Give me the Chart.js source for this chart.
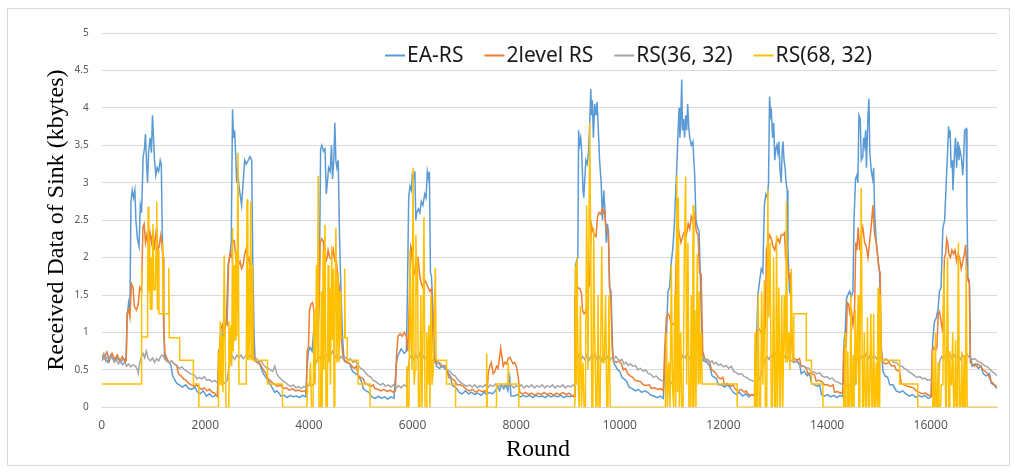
<!DOCTYPE html>
<html>
<head>
<meta charset="utf-8">
<script src="https://cdn.jsdelivr.net/npm/chart.js@4.4.1/dist/chart.umd.min.js"></script>
<style>
  body { margin: 0; background: #fff; }
  #wrap { position: relative; width: 1016px; height: 472px; }
  #frame { position: absolute; left: 7px; top: 8px; width: 1001px; height: 456px; border: 1px solid #d9d9d9; }
  canvas { position: absolute; left: 0; top: 0; }
</style>
</head>
<body>
<div id="wrap">
  <div id="frame"></div>
  <canvas id="chartBox" width="1016" height="472"></canvas>
</div>
<script>
// tick labels
const roundTicks = [0, 2000, 4000, 6000, 8000, 10000, 12000, 14000, 16000];
const kbyteTicks = [0, 0.5, 1, 1.5, 2, 2.5, 3, 3.5, 4, 4.5, 5];
const seriesNames = ['EA-RS', '2level RS', 'RS(36, 32)', 'RS(68, 32)'];
const yTitle = 'Received Data of Sink (kbytes)';
const xTitle = 'Round';

// [round, kbytes]
const eaRS = [[0,0.62],[60,0.68],[120,0.6],[180,0.7],[240,0.62],[300,0.66],[360,0.6],[420,0.65],[470,0.63],[490,1.2],[520,1.4],[545,1.3],[565,2.75],[590,2.9],[615,2.8],[640,2.9],[660,2.5],[690,2.25],[720,2.15],[745,2.7],[770,2.6],[800,3.35],[825,3.45],[845,3.65],[870,3.2],[885,3.0],[905,3.4],[935,3.6],[960,3.4],[980,3.9],[1000,3.6],[1020,3.3],[1045,3.1],[1070,3.2],[1100,3.15],[1130,3.3],[1150,3.25],[1170,2.3],[1195,1.1],[1215,0.7],[1250,0.62],[1300,0.6],[1340,0.55],[1370,0.42],[1400,0.38],[1450,0.32],[1500,0.3],[1560,0.27],[1620,0.3],[1680,0.25],[1740,0.24],[1800,0.27],[1850,0.2],[1900,0.18],[1960,0.22],[2020,0.15],[2080,0.18],[2140,0.14],[2200,0.16],[2230,0.15],[2260,0.6],[2290,0.7],[2320,0.9],[2350,1.1],[2380,1.05],[2410,1.2],[2440,1.9],[2470,2.0],[2500,2.2],[2525,3.98],[2545,3.6],[2565,3.7],[2590,3.3],[2605,3.0],[2620,3.2],[2650,2.95],[2680,2.8],[2700,2.7],[2730,3.0],[2760,3.3],[2790,3.25],[2830,3.3],[2860,3.35],[2895,3.3],[2915,2.0],[2940,1.0],[2960,0.62],[3000,0.6],[3050,0.58],[3090,0.5],[3120,0.45],[3170,0.4],[3215,0.35],[3260,0.3],[3300,0.25],[3340,0.2],[3380,0.22],[3420,0.19],[3460,0.15],[3520,0.16],[3580,0.13],[3640,0.16],[3700,0.14],[3760,0.15],[3820,0.13],[3880,0.16],[3940,0.14],[3960,0.5],[3990,0.75],[4020,0.8],[4060,0.75],[4090,1.0],[4120,1.15],[4150,1.12],[4180,1.2],[4205,2.0],[4225,3.45],[4250,3.5],[4280,3.42],[4310,3.45],[4335,2.85],[4355,3.0],[4380,3.2],[4410,3.15],[4435,3.5],[4455,3.05],[4480,3.3],[4500,3.8],[4520,3.3],[4540,3.2],[4565,3.3],[4590,2.3],[4620,1.5],[4650,0.9],[4680,0.62],[4720,0.6],[4790,0.58],[4840,0.48],[4900,0.45],[4960,0.42],[5010,0.35],[5050,0.25],[5100,0.22],[5160,0.2],[5210,0.14],[5280,0.12],[5340,0.15],[5400,0.12],[5460,0.14],[5520,0.11],[5580,0.14],[5640,0.12],[5690,0.6],[5720,0.7],[5780,0.78],[5840,0.72],[5880,0.75],[5900,1.5],[5925,2.8],[5950,2.95],[5975,2.9],[5995,3.1],[6020,3.05],[6045,3.15],[6062,2.5],[6080,2.6],[6110,2.65],[6140,2.6],[6170,2.75],[6200,2.7],[6235,2.85],[6260,2.8],[6285,3.15],[6310,3.05],[6325,3.15],[6345,1.8],[6365,1.75],[6400,1.2],[6430,0.7],[6460,0.55],[6520,0.52],[6580,0.55],[6650,0.5],[6700,0.45],[6740,0.4],[6760,0.3],[6800,0.28],[6850,0.25],[6900,0.2],[6960,0.18],[7020,0.22],[7080,0.18],[7140,0.2],[7200,0.17],[7260,0.19],[7320,0.16],[7380,0.2],[7430,0.17],[7480,0.2],[7540,0.18],[7600,0.22],[7640,0.28],[7680,0.22],[7720,0.3],[7760,0.25],[7800,0.3],[7840,0.22],[7875,0.4],[7900,0.15],[7960,0.15],[8020,0.17],[8080,0.14],[8140,0.16],[8200,0.14],[8260,0.16],[8320,0.13],[8380,0.16],[8440,0.14],[8500,0.15],[8560,0.13],[8620,0.16],[8680,0.14],[8740,0.16],[8800,0.14],[8860,0.16],[8920,0.13],[8980,0.15],[9040,0.14],[9100,0.16],[9130,0.15],[9145,1.9],[9165,1.95],[9190,2.0],[9205,3.7],[9220,3.5],[9245,3.6],[9265,3.4],[9290,2.9],[9305,2.8],[9320,3.0],[9345,3.3],[9370,3.25],[9395,3.4],[9420,3.8],[9440,4.25],[9455,3.9],[9470,4.1],[9490,3.6],[9515,4.05],[9540,3.9],[9560,4.08],[9580,3.8],[9610,3.3],[9640,3.0],[9665,2.5],[9690,2.9],[9715,2.6],[9740,2.2],[9760,2.45],[9780,2.35],[9800,1.6],[9830,1.55],[9860,0.8],[9880,0.6],[9920,0.55],[9960,0.5],[10000,0.48],[10040,0.4],[10080,0.38],[10130,0.35],[10180,0.27],[10240,0.25],[10300,0.22],[10360,0.24],[10420,0.2],[10480,0.22],[10540,0.2],[10600,0.16],[10660,0.15],[10720,0.13],[10780,0.15],[10840,0.12],[10870,0.6],[10900,0.95],[10930,1.55],[10960,1.6],[10995,1.95],[11020,2.1],[11050,2.4],[11080,2.9],[11100,3.2],[11125,3.7],[11145,4.0],[11160,3.6],[11175,3.8],[11195,4.38],[11210,3.7],[11230,3.85],[11250,3.6],[11270,3.9],[11290,3.7],[11310,4.05],[11330,3.75],[11350,3.6],[11380,3.5],[11410,3.55],[11445,3.1],[11470,2.5],[11500,2.4],[11530,2.35],[11560,1.6],[11590,0.75],[11620,0.62],[11680,0.6],[11735,0.55],[11780,0.42],[11830,0.4],[11870,0.38],[11900,0.3],[11960,0.3],[12020,0.27],[12080,0.3],[12140,0.25],[12190,0.2],[12250,0.17],[12310,0.2],[12370,0.15],[12430,0.18],[12490,0.14],[12550,0.17],[12600,0.15],[12635,0.8],[12665,1.5],[12700,1.7],[12730,1.85],[12760,1.8],[12790,2.7],[12820,2.85],[12850,2.8],[12870,3.0],[12890,4.15],[12910,3.9],[12925,3.95],[12950,3.6],[12970,3.8],[12990,3.3],[13010,3.45],[13030,3.5],[13050,3.4],[13070,3.55],[13090,3.2],[13115,3.0],[13135,3.45],[13150,3.55],[13170,3.3],[13190,3.2],[13210,3.0],[13230,2.9],[13245,2.1],[13275,1.55],[13300,1.5],[13330,0.8],[13360,0.6],[13420,0.62],[13470,0.58],[13500,0.45],[13560,0.48],[13620,0.42],[13660,0.45],[13700,0.32],[13760,0.3],[13820,0.28],[13860,0.3],[13890,0.17],[13950,0.15],[14010,0.17],[14070,0.14],[14130,0.16],[14190,0.13],[14250,0.16],[14305,0.14],[14330,0.9],[14350,1.0],[14375,1.45],[14400,1.5],[14435,1.55],[14470,1.48],[14500,1.55],[14520,2.5],[14550,3.05],[14575,3.1],[14595,3.0],[14615,3.9],[14640,3.85],[14660,3.3],[14690,3.35],[14705,3.6],[14725,3.5],[14745,3.7],[14760,3.2],[14790,3.9],[14808,4.12],[14825,3.4],[14855,3.15],[14880,3.05],[14900,3.2],[14918,2.6],[14950,2.2],[14980,2.0],[15013,1.8],[15040,0.9],[15078,0.48],[15120,0.42],[15170,0.4],[15210,0.3],[15270,0.3],[15335,0.22],[15400,0.2],[15460,0.22],[15520,0.18],[15590,0.15],[15650,0.17],[15710,0.13],[15770,0.16],[15830,0.14],[15890,0.16],[15950,0.12],[16010,0.14],[16040,0.9],[16075,1.15],[16110,1.2],[16140,1.3],[16170,1.55],[16200,1.6],[16235,2.4],[16270,2.5],[16300,3.0],[16320,3.3],[16345,3.75],[16360,3.6],[16375,3.7],[16395,3.2],[16415,3.3],[16430,2.9],[16460,3.4],[16480,3.6],[16500,3.2],[16525,3.55],[16545,3.3],[16560,3.45],[16590,3.35],[16620,3.1],[16640,3.4],[16655,3.7],[16685,3.72],[16700,2.7],[16720,1.7],[16750,1.65],[16765,0.7],[16800,0.55],[16860,0.58],[16920,0.52],[16975,0.55],[17010,0.45],[17070,0.42],[17135,0.45],[17170,0.32],[17220,0.3],[17280,0.25]];

const twoLevelRS = [[0,0.7],[50,0.65],[100,0.74],[150,0.62],[200,0.72],[250,0.64],[300,0.7],[350,0.62],[400,0.68],[450,0.6],[475,0.65],[490,1.25],[520,1.3],[545,1.2],[575,1.65],[605,1.6],[630,1.35],[670,1.3],[705,1.38],[735,1.6],[770,1.55],[795,2.4],[820,2.45],[845,2.2],[870,2.3],[900,2.15],[930,2.35],[960,2.2],[990,2.35],[1010,2.1],[1040,2.3],[1060,2.4],[1080,2.1],[1110,2.15],[1140,2.3],[1160,2.2],[1185,2.0],[1200,1.0],[1220,0.72],[1260,0.65],[1300,0.6],[1350,0.62],[1400,0.58],[1450,0.55],[1480,0.45],[1530,0.42],[1580,0.38],[1630,0.36],[1680,0.32],[1730,0.3],[1780,0.28],[1830,0.3],[1880,0.26],[1930,0.24],[1980,0.26],[2030,0.22],[2080,0.24],[2130,0.2],[2180,0.19],[2220,0.15],[2240,0.14],[2255,0.75],[2280,0.8],[2300,1.05],[2330,1.1],[2360,0.95],[2390,1.12],[2420,1.1],[2450,1.95],[2480,2.05],[2510,2.0],[2530,2.24],[2560,2.22],[2590,2.0],[2620,2.05],[2640,1.9],[2670,1.95],[2700,1.85],[2730,1.9],[2760,2.05],[2790,2.12],[2810,1.95],[2840,2.0],[2870,1.85],[2895,1.8],[2910,1.45],[2935,0.7],[2960,0.62],[3000,0.6],[3050,0.58],[3080,0.55],[3120,0.5],[3170,0.45],[3215,0.38],[3260,0.35],[3310,0.32],[3350,0.3],[3400,0.28],[3450,0.3],[3500,0.25],[3560,0.26],[3620,0.23],[3680,0.25],[3740,0.22],[3800,0.23],[3860,0.21],[3920,0.22],[3950,0.2],[3965,0.75],[3990,0.8],[4010,1.3],[4040,1.38],[4070,1.4],[4095,1.3],[4115,0.95],[4150,1.0],[4180,1.05],[4200,1.4],[4215,2.2],[4245,2.25],[4275,2.22],[4300,2.0],[4330,1.95],[4350,2.0],[4370,2.1],[4400,2.0],[4435,1.98],[4470,2.1],[4500,1.95],[4530,1.95],[4565,1.7],[4597,1.55],[4625,0.9],[4660,0.65],[4700,0.62],[4750,0.6],[4790,0.58],[4830,0.55],[4880,0.52],[4920,0.55],[4950,0.42],[5000,0.4],[5050,0.38],[5080,0.32],[5140,0.3],[5200,0.28],[5240,0.3],[5270,0.25],[5330,0.24],[5390,0.22],[5450,0.24],[5510,0.21],[5570,0.23],[5630,0.2],[5670,0.22],[5690,0.7],[5720,0.95],[5760,0.98],[5800,0.95],[5840,1.0],[5880,0.95],[5910,0.75],[5940,1.5],[5965,2.15],[5985,2.1],[6010,1.75],[6040,1.8],[6075,2.0],[6105,2.0],[6140,1.75],[6170,1.65],[6200,1.6],[6235,1.7],[6270,1.65],[6300,1.6],[6335,1.55],[6365,1.58],[6385,1.2],[6400,0.75],[6430,0.62],[6490,0.6],[6550,0.55],[6620,0.56],[6660,0.5],[6700,0.4],[6760,0.38],[6820,0.35],[6860,0.3],[6920,0.3],[6980,0.28],[7040,0.24],[7100,0.22],[7160,0.24],[7220,0.2],[7280,0.23],[7340,0.21],[7400,0.22],[7440,0.2],[7460,0.45],[7490,0.55],[7520,0.6],[7555,0.45],[7590,0.48],[7620,0.55],[7650,0.52],[7685,0.7],[7700,0.79],[7720,0.7],[7750,0.55],[7780,0.6],[7810,0.58],[7845,0.65],[7880,0.67],[7910,0.62],[7940,0.58],[7970,0.6],[8005,0.55],[8040,0.4],[8070,0.2],[8120,0.18],[8180,0.2],[8240,0.17],[8300,0.19],[8360,0.16],[8420,0.19],[8480,0.17],[8540,0.2],[8600,0.17],[8660,0.19],[8720,0.16],[8780,0.19],[8840,0.17],[8900,0.2],[8960,0.17],[9020,0.19],[9080,0.15],[9120,0.14],[9135,1.45],[9160,1.55],[9195,1.6],[9230,1.58],[9260,1.52],[9280,1.3],[9310,1.25],[9340,1.28],[9360,1.35],[9390,1.6],[9410,1.62],[9430,2.0],[9450,2.45],[9480,2.35],[9510,2.3],[9540,2.28],[9570,2.55],[9600,2.6],[9630,2.58],[9660,2.65],[9690,2.6],[9710,2.62],[9730,2.4],[9760,2.35],[9780,2.3],[9805,1.6],[9830,1.4],[9855,0.75],[9880,0.62],[9930,0.6],[9980,0.62],[10030,0.58],[10070,0.5],[10110,0.52],[10150,0.45],[10200,0.42],[10250,0.4],[10290,0.36],[10350,0.35],[10410,0.34],[10450,0.3],[10510,0.29],[10570,0.3],[10610,0.25],[10670,0.26],[10730,0.24],[10790,0.25],[10840,0.22],[10866,0.78],[10900,1.2],[10930,1.25],[10960,1.22],[10990,1.1],[11020,1.12],[11060,1.1],[11090,2.0],[11120,2.45],[11150,2.3],[11180,2.2],[11220,2.3],[11250,2.35],[11285,2.3],[11320,2.45],[11350,2.38],[11380,2.55],[11410,2.5],[11445,2.58],[11475,2.35],[11510,2.3],[11540,1.8],[11570,1.78],[11600,0.75],[11640,0.65],[11700,0.62],[11735,0.6],[11770,0.5],[11820,0.48],[11860,0.45],[11900,0.4],[11950,0.38],[11990,0.4],[12020,0.3],[12080,0.32],[12140,0.28],[12190,0.3],[12220,0.25],[12280,0.22],[12340,0.24],[12400,0.2],[12440,0.22],[12480,0.17],[12540,0.16],[12600,0.17],[12615,0.8],[12640,1.0],[12685,1.05],[12720,1.02],[12750,0.95],[12790,0.98],[12810,1.1],[12830,2.1],[12860,2.2],[12890,2.3],[12925,2.25],[12955,2.15],[12990,2.1],[13020,2.2],[13050,2.25],[13085,2.2],[13115,2.3],[13150,2.3],[13180,2.33],[13200,2.0],[13225,2.05],[13250,1.8],[13280,1.7],[13295,1.8],[13310,1.0],[13340,0.65],[13375,0.65],[13420,0.63],[13470,0.65],[13500,0.55],[13550,0.55],[13600,0.52],[13630,0.45],[13690,0.46],[13760,0.43],[13790,0.35],[13850,0.36],[13920,0.33],[13950,0.3],[14010,0.3],[14070,0.28],[14115,0.3],[14145,0.2],[14200,0.21],[14260,0.19],[14305,0.2],[14320,0.76],[14345,0.85],[14370,0.82],[14390,1.4],[14415,1.38],[14440,1.25],[14470,1.3],[14500,1.1],[14530,1.3],[14555,2.2],[14575,2.1],[14600,2.4],[14630,2.1],[14660,2.3],[14690,2.4],[14725,2.2],[14757,2.15],[14790,2.0],[14820,2.2],[14850,2.4],[14885,2.7],[14900,2.5],[14918,2.3],[14950,2.2],[14980,2.0],[15000,1.85],[15025,1.8],[15045,0.75],[15078,0.6],[15130,0.58],[15190,0.6],[15250,0.55],[15300,0.56],[15335,0.5],[15400,0.48],[15430,0.32],[15490,0.3],[15550,0.28],[15610,0.27],[15670,0.26],[15720,0.22],[15780,0.2],[15840,0.18],[15900,0.19],[15960,0.16],[16010,0.15],[16030,0.76],[16055,0.8],[16095,0.76],[16120,0.8],[16145,1.25],[16170,1.28],[16200,1.15],[16235,1.0],[16265,2.0],[16290,2.05],[16310,2.25],[16330,2.2],[16350,2.05],[16380,2.0],[16410,2.1],[16440,2.05],[16470,2.1],[16500,1.95],[16530,2.05],[16560,2.0],[16590,1.85],[16620,1.95],[16650,2.05],[16675,2.17],[16700,1.75],[16745,1.7],[16765,0.6],[16800,0.58],[16850,0.55],[16900,0.58],[16960,0.55],[17010,0.5],[17060,0.48],[17100,0.45],[17140,0.38],[17190,0.33],[17230,0.3],[17280,0.28]];

const rs3632 = [[0,0.65],[40,0.72],[80,0.62],[120,0.7],[160,0.64],[200,0.68],[240,0.6],[280,0.63],[320,0.58],[360,0.62],[400,0.57],[440,0.6],[480,0.55],[520,0.58],[560,0.54],[600,0.57],[650,0.55],[690,0.5],[705,0.45],[730,0.58],[770,0.68],[800,0.72],[830,0.66],[860,0.75],[900,0.65],[940,0.62],[980,0.66],[1020,0.6],[1060,0.65],[1100,0.62],[1140,0.68],[1180,0.7],[1220,0.64],[1260,0.62],[1300,0.6],[1350,0.62],[1400,0.58],[1450,0.56],[1500,0.52],[1550,0.54],[1600,0.5],[1650,0.48],[1700,0.45],[1750,0.44],[1800,0.42],[1840,0.38],[1880,0.4],[1930,0.38],[1980,0.41],[2030,0.36],[2080,0.37],[2130,0.34],[2180,0.36],[2230,0.33],[2280,0.37],[2330,0.35],[2380,0.32],[2420,0.36],[2460,0.55],[2490,0.62],[2530,0.68],[2570,0.64],[2610,0.7],[2650,0.66],[2690,0.7],[2730,0.65],[2770,0.68],[2810,0.72],[2850,0.66],[2890,0.7],[2940,0.68],[2990,0.65],[3030,0.6],[3080,0.62],[3120,0.57],[3170,0.53],[3215,0.52],[3260,0.5],[3300,0.48],[3340,0.55],[3380,0.45],[3420,0.4],[3460,0.38],[3500,0.35],[3550,0.33],[3600,0.3],[3650,0.28],[3700,0.3],[3750,0.26],[3800,0.28],[3850,0.25],[3900,0.28],[3950,0.26],[4000,0.3],[4050,0.28],[4090,0.32],[4120,0.55],[4150,0.62],[4180,0.68],[4220,0.65],[4260,0.72],[4300,0.66],[4340,0.7],[4380,0.64],[4420,0.7],[4460,0.75],[4500,0.66],[4540,0.7],[4580,0.64],[4620,0.68],[4660,0.65],[4700,0.67],[4750,0.63],[4800,0.65],[4850,0.6],[4900,0.62],[4950,0.56],[5000,0.52],[5050,0.5],[5100,0.45],[5150,0.42],[5200,0.4],[5240,0.36],[5280,0.35],[5330,0.32],[5380,0.3],[5430,0.32],[5480,0.28],[5530,0.3],[5580,0.27],[5630,0.3],[5680,0.26],[5730,0.29],[5780,0.26],[5830,0.3],[5880,0.28],[5910,0.5],[5940,0.65],[5980,0.7],[6020,0.64],[6060,0.7],[6100,0.66],[6140,0.72],[6180,0.64],[6220,0.69],[6260,0.65],[6300,0.7],[6340,0.66],[6380,0.63],[6420,0.6],[6470,0.58],[6520,0.6],[6570,0.56],[6620,0.55],[6670,0.5],[6720,0.48],[6770,0.44],[6820,0.42],[6860,0.38],[6900,0.35],[6950,0.32],[7000,0.3],[7050,0.28],[7100,0.3],[7150,0.27],[7200,0.3],[7250,0.26],[7300,0.29],[7350,0.27],[7400,0.3],[7450,0.26],[7500,0.3],[7550,0.28],[7600,0.31],[7650,0.27],[7700,0.3],[7750,0.28],[7800,0.31],[7850,0.27],[7900,0.3],[7950,0.26],[8000,0.29],[8050,0.27],[8100,0.3],[8150,0.26],[8200,0.29],[8250,0.27],[8300,0.3],[8350,0.26],[8400,0.29],[8450,0.27],[8500,0.3],[8550,0.26],[8600,0.29],[8650,0.27],[8700,0.3],[8750,0.26],[8800,0.29],[8850,0.27],[8900,0.3],[8950,0.26],[9000,0.29],[9050,0.27],[9100,0.3],[9140,0.28],[9160,0.65],[9200,0.7],[9240,0.62],[9280,0.68],[9320,0.64],[9360,0.7],[9400,0.62],[9440,0.68],[9480,0.65],[9520,0.72],[9560,0.64],[9600,0.68],[9640,0.62],[9680,0.7],[9720,0.65],[9760,0.68],[9800,0.62],[9840,0.66],[9880,0.64],[9920,0.68],[9960,0.65],[10000,0.62],[10040,0.64],[10080,0.58],[10120,0.6],[10160,0.56],[10200,0.58],[10250,0.55],[10300,0.56],[10350,0.5],[10400,0.52],[10450,0.48],[10500,0.5],[10550,0.45],[10600,0.44],[10650,0.4],[10700,0.42],[10750,0.38],[10800,0.36],[10850,0.35],[10900,0.34],[10950,0.36],[11000,0.32],[11040,0.35],[11070,0.6],[11100,0.66],[11140,0.7],[11180,0.64],[11220,0.7],[11260,0.66],[11300,0.72],[11340,0.65],[11380,0.7],[11420,0.66],[11460,0.68],[11500,0.64],[11540,0.66],[11580,0.62],[11620,0.66],[11660,0.62],[11700,0.64],[11740,0.6],[11780,0.62],[11820,0.58],[11860,0.6],[11900,0.56],[11950,0.58],[12000,0.54],[12050,0.56],[12100,0.52],[12150,0.55],[12200,0.48],[12250,0.46],[12300,0.44],[12350,0.45],[12400,0.41],[12450,0.4],[12500,0.37],[12550,0.36],[12600,0.34],[12640,0.3],[12680,0.36],[12720,0.42],[12760,0.55],[12800,0.62],[12840,0.68],[12880,0.64],[12920,0.7],[12960,0.66],[13000,0.72],[13040,0.65],[13080,0.7],[13120,0.64],[13160,0.7],[13200,0.66],[13240,0.68],[13280,0.63],[13320,0.62],[13360,0.6],[13400,0.62],[13450,0.58],[13500,0.56],[13550,0.55],[13600,0.53],[13650,0.52],[13700,0.48],[13750,0.47],[13800,0.45],[13850,0.46],[13900,0.42],[13950,0.4],[14000,0.41],[14050,0.38],[14100,0.39],[14150,0.35],[14200,0.34],[14250,0.32],[14300,0.3],[14350,0.3],[14400,0.28],[14450,0.3],[14500,0.28],[14540,0.3],[14565,0.6],[14600,0.68],[14640,0.64],[14680,0.7],[14720,0.66],[14760,0.72],[14800,0.65],[14840,0.7],[14880,0.66],[14920,0.68],[14960,0.64],[15000,0.7],[15045,0.66],[15090,0.63],[15140,0.65],[15190,0.61],[15240,0.63],[15290,0.6],[15340,0.6],[15390,0.56],[15440,0.55],[15490,0.52],[15540,0.5],[15590,0.47],[15640,0.45],[15690,0.42],[15740,0.4],[15790,0.41],[15840,0.38],[15890,0.39],[15940,0.36],[15990,0.37],[16040,0.35],[16080,0.32],[16120,0.3],[16150,0.34],[16175,0.62],[16210,0.68],[16250,0.65],[16290,0.7],[16330,0.66],[16370,0.72],[16410,0.65],[16450,0.7],[16490,0.66],[16530,0.7],[16570,0.64],[16610,0.7],[16650,0.66],[16690,0.72],[16730,0.68],[16770,0.66],[16810,0.64],[16850,0.65],[16900,0.62],[16950,0.6],[17000,0.58],[17050,0.55],[17100,0.54],[17150,0.5],[17200,0.47],[17240,0.45],[17280,0.42]];

const rs6832 = [[0,0.31],[760,0.31],[765,1.85],[775,0.94],[885,0.94],[895,2.68],[910,1.55],[925,2.2],[940,1.3],[955,2.0],[970,1.3],[990,2.45],[1005,1.57],[1035,1.57],[1050,2.2],[1062,2.75],[1075,1.3],[1090,2.1],[1105,1.25],[1170,1.25],[1180,2.2],[1195,1.25],[1285,1.25],[1295,1.86],[1305,0.93],[1505,0.93],[1505,0.63],[1770,0.63],[1770,0.31],[1875,0.31],[1875,0],[2245,0],[2255,0.75],[2270,0.3],[2290,1.15],[2305,0.3],[2320,0.95],[2340,0.2],[2365,2.03],[2385,0.75],[2400,0],[2440,0],[2455,1.15],[2470,0.55],[2495,1.1],[2510,0.55],[2525,2.4],[2540,0.75],[2560,1.9],[2575,0.9],[2590,2.1],[2610,0.95],[2630,3.4],[2650,0.31],[2790,0.31],[2805,2.78],[2820,0.63],[2840,1.85],[2855,0.63],[2875,2.75],[2895,0.63],[2910,1.9],[2925,0.63],[3200,0.63],[3200,0.31],[3490,0.31],[3490,0],[3960,0],[3975,0.31],[4010,0.31],[4030,0.6],[4050,0],[4080,0],[4100,1.3],[4120,0.3],[4145,1.9],[4165,0.6],[4178,3.09],[4195,0],[4225,0],[4240,1.55],[4255,0],[4275,2.1],[4290,0.5],[4310,2.44],[4330,0],[4355,0],[4370,1.9],[4385,0.6],[4400,1.6],[4415,0.3],[4440,2.15],[4455,0.9],[4470,1.85],[4485,0],[4500,1.2],[4520,2.4],[4540,0.6],[4560,1.8],[4580,0.6],[4600,1.55],[4615,0.93],[4680,0.93],[4690,1.85],[4700,0.93],[4740,0.93],[4740,0.63],[4950,0.63],[4950,0.31],[5180,0.31],[5180,0],[5880,0],[5890,0.55],[5905,0],[5930,0],[5950,2.1],[5970,0.9],[5990,0.5],[6010,3.2],[6030,0.3],[6050,0.5],[6065,2.3],[6080,1.5],[6095,2.0],[6115,0],[6140,0],[6160,1.5],[6180,0],[6200,1.0],[6220,2.54],[6240,0],[6260,0],[6275,1.0],[6295,0.3],[6315,1.1],[6335,0],[6355,1.5],[6375,0.3],[6400,0.5],[6440,1.86],[6455,0.63],[6655,0.63],[6655,0.31],[6830,0.31],[6830,0],[7420,0],[7430,0.72],[7440,0],[7620,0],[7620,0.31],[7840,0.31],[7845,0.6],[7850,0.31],[8050,0.31],[8050,0],[9130,0],[9145,1.9],[9160,0.3],[9175,2.0],[9195,0.3],[9215,0],[9240,1.35],[9260,0],[9290,0.6],[9310,0],[9335,0],[9360,2.7],[9385,0.5],[9420,3.8],[9440,2.0],[9460,0],[9480,0],[9495,2.4],[9515,1.0],[9540,0],[9560,0],[9580,1.5],[9600,0],[9620,0],[9650,2.15],[9675,0.6],[9700,0.6],[9725,1.5],[9750,0],[9770,0],[9790,1.5],[9815,0],[10880,0],[10900,1.0],[10920,0],[10945,0.6],[10970,0],[10995,1.9],[11015,0.3],[11040,0],[11060,1.5],[11080,0],[11100,3.1],[11115,0.2],[11130,2.8],[11150,0],[11175,1.0],[11195,0],[11220,0],[11245,2.0],[11270,3.08],[11290,0.3],[11315,2.2],[11335,0],[11360,0],[11380,1.5],[11400,0],[11415,2.7],[11430,0],[11450,1.3],[11470,0],[11495,2.05],[11515,0.3],[11535,1.55],[11550,0.31],[11570,1.0],[11590,0.31],[12265,0.31],[12265,0],[12600,0],[12612,1.0],[12625,0],[12650,0],[12672,1.5],[12690,0],[12715,0],[12738,1.55],[12760,0.3],[12790,1.7],[12810,0],[12835,0],[12857,2.9],[12875,1.2],[12900,2.2],[12925,0],[12945,0],[12968,2.0],[12990,0],[13010,0],[13025,2.3],[13045,0],[13070,1.6],[13090,0],[13100,0],[13125,1.5],[13145,0],[13175,1.5],[13200,0.6],[13215,2.75],[13235,0.6],[13265,1.0],[13285,0.5],[13310,1.85],[13330,0.63],[13350,0.63],[13360,1.25],[13600,1.25],[13600,0.63],[13700,0.63],[13700,0.31],[13920,0.31],[13920,0],[14310,0],[14322,0.3],[14335,0],[14350,1.0],[14365,0],[14385,0],[14400,0.75],[14415,0],[14440,0],[14460,1.5],[14475,0],[14490,0],[14505,0.7],[14520,0],[14545,1.3],[14565,0.3],[14600,1.5],[14615,0],[14630,0],[14660,2.93],[14685,0],[14700,0],[14720,1.0],[14740,0],[14760,0],[14780,1.2],[14800,0],[14820,0],[14845,1.25],[14865,0],[14880,0],[14900,1.25],[14915,0],[14930,0],[14950,0.6],[14968,0],[14985,1.6],[15000,0],[15015,0],[15030,1.5],[15045,0.63],[15400,0.63],[15400,0.31],[15750,0.31],[15750,0],[16030,0],[16042,0.75],[16055,0],[16075,0],[16092,1.0],[16108,0],[16130,0],[16145,0.6],[16160,0],[16190,0],[16205,0.3],[16235,0.3],[16255,1.85],[16275,0.75],[16290,0],[16300,0],[16325,2.0],[16345,0],[16355,0],[16368,0.75],[16385,0.3],[16405,0.3],[16425,1.0],[16445,0],[16465,0],[16480,0.9],[16500,0],[16515,0],[16535,2.2],[16555,0],[16580,0],[16600,0.75],[16615,0],[16630,0],[16645,0.7],[16660,0],[16670,0],[16685,1.9],[16705,0],[17280,0]];

const seriesColors = ['#5B9BD5', '#ED7D31', '#A5A5A5', '#FFC000'];
const allSeries = [eaRS, twoLevelRS, rs3632, rs6832];

// legend drawn like the office one (short line, small gap, text) and the two axis titles
const officeDecor = {
  id: 'officeDecor',
  afterDraw(chart) {
    const ctx = chart.ctx;
    ctx.save();
    ctx.font = '21px "Noto Sans"';
    ctx.textBaseline = 'middle';
    let x = 385;
    chart.data.datasets.forEach(ds => {
      ctx.strokeStyle = ds.borderColor;
      ctx.lineWidth = 2;
      ctx.beginPath();
      ctx.moveTo(x, 55.5);
      ctx.lineTo(x + 20, 55.5);
      ctx.stroke();
      ctx.fillStyle = '#1a1a1a';
      ctx.fillText(ds.label, x + 22, 56);
      x += 22 + ctx.measureText(ds.label).width + 21;
    });
    ctx.font = '24px "Liberation Serif"';
    ctx.textAlign = 'center';
    ctx.fillStyle = '#000';
    ctx.fillText(xTitle, 538, 450);
    const area = chart.chartArea;
    ctx.translate(57, (area.top + area.bottom) / 2);
    ctx.rotate(-Math.PI / 2);
    ctx.fillText(yTitle, 0, 0);
    ctx.restore();
  }
};

const chartBox = document.querySelector('#chartBox').getContext('2d');

new Chart(chartBox, {
  type: 'line',
  data: {
    datasets: allSeries.map((pts, i) => ({
      label: seriesNames[i],
      data: pts,
      borderColor: seriesColors[i],
      backgroundColor: seriesColors[i],
      borderWidth: 1.5,
      pointRadius: 0,
      tension: 0,
      fill: false,
      order: allSeries.length - i
    }))
  },
  options: {
    responsive: false,
    animation: false,
    layout: { padding: { top: 33, right: 19, left: 0, bottom: 0 } },
    plugins: {
      legend: { display: false },
      tooltip: { enabled: false }
    },
    scales: {
      x: {
        type: 'linear',
        min: 0,
        max: 17280,
        afterBuildTicks: scale => { scale.ticks = roundTicks.map(v => ({ value: v })); },
        afterFit: scale => { scale.height = 64.7; },
        grid: { display: false, drawTicks: false },
        border: { display: true, color: '#d9d9d9' },
        ticks: {
          padding: 11,
          color: '#595959',
          font: { family: 'Noto Sans', size: 12 },
          maxRotation: 0,
          callback: v => String(v)
        }
      },
      y: {
        min: 0,
        max: 5,
        afterBuildTicks: scale => { scale.ticks = kbyteTicks.map(v => ({ value: v })); },
        afterFit: scale => { scale.width = 101.7; },
        grid: { color: '#d9d9d9', lineWidth: 1, drawTicks: false },
        border: { display: false },
        ticks: {
          padding: 13,
          color: '#595959',
          font: { family: '"Liberation Sans Narrow", "Noto Sans"', size: 10 },
          callback: v => String(v)
        }
      }
    }
  },
  plugins: [officeDecor]
});
</script>
</body>
</html>
